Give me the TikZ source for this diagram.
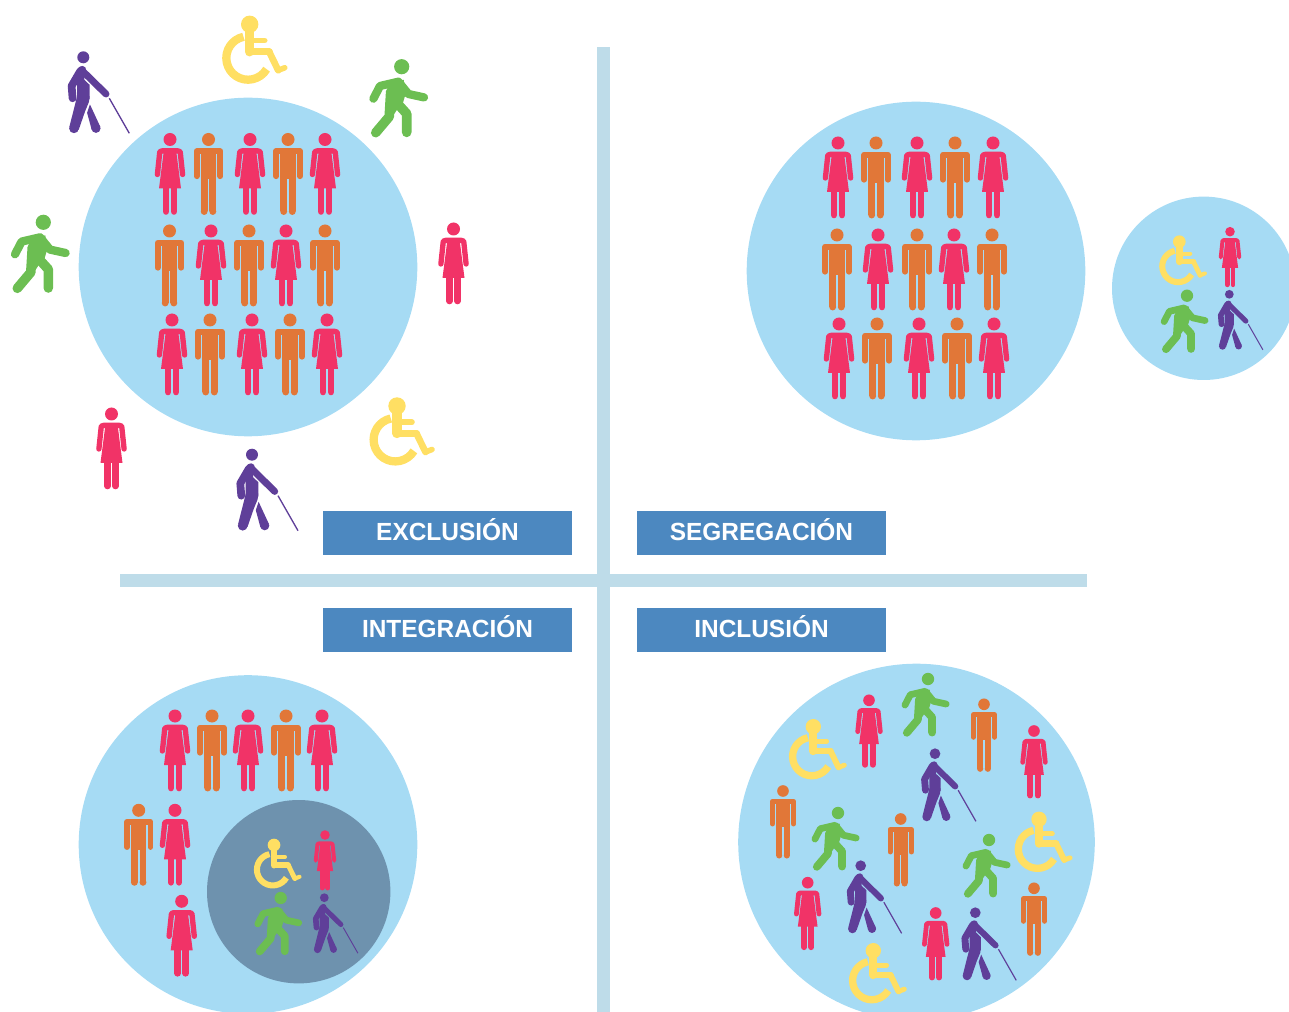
\documentclass[tikz,border=0pt]{standalone}
\usepackage{fontspec}
\setmainfont[FakeStretch=0.985]{Liberation Sans}
\definecolor{disc}{HTML}{A6DBF4}
\definecolor{darkdisc}{HTML}{6E92AE}
\definecolor{banner}{HTML}{4C88C0}
\definecolor{barcol}{HTML}{BEDCE9}
\definecolor{wpink}{HTML}{F13367}
\definecolor{morange}{HTML}{E17738}
\definecolor{wgreen}{HTML}{6CBE52}
\definecolor{wyellow}{HTML}{FFDF63}
\definecolor{bpurple}{HTML}{5F3F99}
\tikzset{
  limb/.style 2 args={draw=#1,line width=#2,line cap=round,line join=round},
  labelbox/.style={fill=banner,text=white,minimum width=186.75pt,minimum height=33pt,inner sep=0pt,text height=10.5pt,text depth=0pt,font=\bfseries\fontsize{18.6pt}{20pt}\selectfont},
  bar/.style={fill=barcol},
}
% 1 unit = 1 reference pixel = 0.75pt; (x,y) = head centre, #3 = size
\newcommand{\iconwoman}[3]{\begin{scope}[shift={(#1,#2)},scale=#3]
  \fill[wpink] (0,0) circle[radius=6.5];
  \draw[limb={wpink}{#3*4pt}] (-12.6,35) -- (-10.2,12.2) -- (-8,11.4) -- (8,11.4) -- (10.2,12.2) -- (12.6,35);
  \fill[wpink] (-6,10) -- (6,10) -- (11,49) -- (-11,49) -- cycle;
  \draw[limb={wpink}{#3*5pt}] (-4,45) -- (-4,72) (4,45) -- (4,72);
\end{scope}}
\newcommand{\iconman}[3]{\begin{scope}[shift={(#1,#2)},scale=#3]
  \fill[morange] (0,0) circle[radius=6.5];
  \draw[limb={morange}{#3*4.4pt}] (-11.8,36.7) -- (-11.8,11.7) -- (11.8,11.7) -- (11.8,36.7);
  \fill[morange] (-7.6,10) rectangle (7.6,40);
  \draw[limb={morange}{#3*5.2pt},line cap=butt] (-4.3,38) -- (-4.3,72) (4.3,38) -- (4.3,72);
  \fill[morange] (-4.3,72) circle[radius=3.45] (4.3,72) circle[radius=3.45];
\end{scope}}
\newcommand{\iconblind}[3]{\begin{scope}[shift={(#1,#2)},scale=#3]
  \fill[bpurple] (0,0) circle[radius=6];
  \draw[limb={bpurple}{#3*5.8pt}] (-10.7,41) -- (-11.7,28.7) -- (-3.3,14.3) -- (-1,12.5);
  \draw[limb={bpurple}{#3*5.2pt}] (-2,12.5) -- (22.7,36.7);
  \fill[bpurple] (-6.3,42) -- (-6.3,26) -- (-2,14) -- (1,14) -- (1,22.5) -- (6.3,27.5) -- (6.3,42) -- cycle;
  \fill[bpurple] (-6.2,39) -- (-13.9,69.5) -- (-4.6,72.5) -- (1.8,54) -- (5.6,44.8) -- (6.3,39) -- cycle;
  \fill[bpurple] (6.6,47) -- (3.8,55.5) -- (8.4,72.5) -- (17,69.5) -- cycle;
  \fill[bpurple] (-9.3,71) circle[radius=4.9] (12.7,71) circle[radius=4.6];
  \draw[bpurple,line width=#3*1pt] (26,41) -- (46,76);
\end{scope}}
\newcommand{\iconwheel}[3]{\begin{scope}[shift={(#1,#2)},scale=#3]
  \draw[limb={wyellow}{#3*6.2pt},line cap=butt] (-6.2,12.5) arc[start angle=258,end angle=31,radius=21.7];
  \fill[wyellow] (0,0) circle[radius=8.7];
  \draw[limb={wyellow}{#3*7pt}] (0,5) -- (0,27.5);
  \draw[limb={wyellow}{#3*5.4pt}] (0,27.5) -- (19.5,27.5);
  \draw[limb={wyellow}{#3*5pt}] (19.5,27.5) -- (28.5,46);
  \draw[limb={wyellow}{#3*4.2pt}] (28.5,46) -- (35,43.5);
  \draw[limb={wyellow}{#3*4.2pt}] (2,16.3) -- (15,16.3);
\end{scope}}
\newcommand{\iconwalk}[3]{\begin{scope}[shift={(#1,#2)},scale=#3]
  \fill[wgreen] (0,0) circle[radius=7.6];
  \draw[limb={wgreen}{#3*6.2pt}] (-28.3,32) -- (-21.7,19.3) -- (-3.3,15) -- (6.7,27.3) -- (22.3,30.7);
  \fill[wgreen] (-13,17) -- (2,13) -- (4,27) -- (1,37) -- (-4,42) -- (-8,48) -- (-16,40) -- cycle;
  \draw[limb={wgreen}{#3*7.2pt}] (-11,25) -- (-12.5,50) -- (-26,66);
  \draw[limb={wgreen}{#3*7.2pt}] (-5,36) -- (5,47) -- (5,65.7);
\end{scope}}
\begin{document}
\begin{tikzpicture}[x=0.75pt,y=0.75pt,yscale=-1]
\clip (0,0) rectangle (1289,1012);
% cross
\fill[bar] (597,47) rectangle (610,1012);
\fill[bar] (120,574) rectangle (1087,587);
% discs
\fill[disc] (248,267) circle[radius=169.3];
\fill[disc] (916,271) circle[radius=169.3];
\fill[disc] (1203.7,288.3) circle[radius=91.7];
\fill[disc] (248,844.5) circle[radius=169.3];
\fill[darkdisc] (298.7,891.7) circle[radius=91.7];
\fill[disc] (916.5,842) circle[radius=178.3];
% labels
\node[labelbox] (lexcl) at (447.5,533) {EXCLUSIÓN};
\node[labelbox] (lsegr) at (761.5,533) {SEGREGACIÓN};
\node[labelbox] (linte) at (447.5,630) {INTEGRACIÓN};
\node[labelbox] (lincl) at (761.5,630) {INCLUSIÓN};
% EXCLUSION
\iconwoman{170}{139.5}{1}\iconman{208.5}{139.5}{1}\iconwoman{250}{139.5}{1}\iconman{288}{139.5}{1}\iconwoman{325}{139.5}{1}
\iconman{169.5}{231}{1}\iconwoman{211}{231}{1}\iconman{249}{231}{1}\iconwoman{286}{231}{1}\iconman{325}{231}{1}
\iconwoman{172}{320}{1}\iconman{210}{320}{1}\iconwoman{252}{320}{1}\iconman{290}{320}{1}\iconwoman{327}{320}{1}
\iconwoman{453.5}{229}{1}\iconwoman{111.5}{414}{1}
\iconblind{83.3}{57.3}{1}\iconblind{252}{454.7}{1}
\iconwheel{249.7}{24.3}{1}\iconwheel{397}{406}{1}
\iconwalk{401.7}{66.7}{1}\iconwalk{43.3}{222.3}{1}
% SEGREGACION
\iconwoman{838}{143}{1}\iconman{876}{143}{1}\iconwoman{917}{143}{1}\iconman{955}{143}{1}\iconwoman{993}{143}{1}
\iconman{837}{235}{1}\iconwoman{878}{235}{1}\iconman{917}{235}{1}\iconwoman{954}{235}{1}\iconman{992}{235}{1}
\iconwoman{839}{324}{1}\iconman{877}{324}{1}\iconwoman{919}{324}{1}\iconman{957}{324}{1}\iconwoman{994}{324}{1}
\iconwheel{1179.3}{241.7}{0.73}\iconwoman{1230}{231.7}{0.736}
\iconwalk{1187}{295.7}{0.81}\iconblind{1229.3}{294.3}{0.73}
% INTEGRACION
\iconwoman{175}{716}{1}\iconman{212}{716}{1}\iconwoman{248}{716}{1}\iconman{286}{716}{1}\iconwoman{322}{716}{1}
\iconman{138.7}{810.3}{1}\iconwoman{175}{810.3}{1}\iconwoman{181.7}{901.3}{1}
\iconwheel{274}{845}{0.73}\iconwoman{325}{835}{0.736}
\iconwalk{280.7}{898}{0.81}\iconblind{324.3}{897.7}{0.73}
% INCLUSION
\iconwheel{813.3}{726.7}{0.885}\iconwoman{869}{700.3}{0.895}\iconwalk{928}{679}{0.815}
\iconman{984}{704.3}{0.895}\iconwoman{1034}{731}{0.895}\iconblind{935}{753.7}{0.89}
\iconman{783}{791}{0.895}\iconwalk{838}{813}{0.815}\iconman{900.7}{819}{0.895}
\iconwalk{989}{840}{0.815}\iconwheel{1039}{819.3}{0.885}\iconwoman{807.7}{882.7}{0.895}
\iconblind{860.7}{865.7}{0.89}\iconwoman{935.7}{913}{0.895}\iconblind{975.3}{912.7}{0.89}
\iconman{1034}{888.3}{0.895}\iconwheel{873.3}{950.7}{0.885}
\end{tikzpicture}
\end{document}
